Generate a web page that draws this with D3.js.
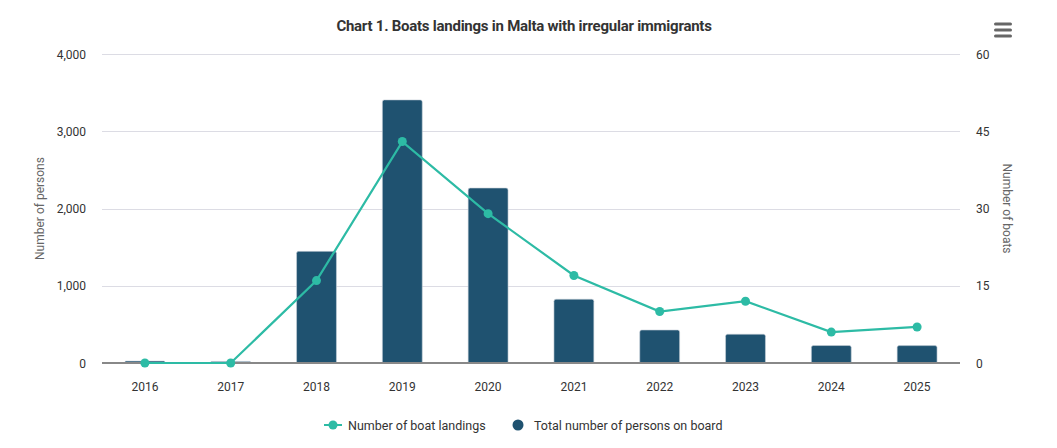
<!DOCTYPE html>
<html><head><meta charset="utf-8">
<script src="https://cdn.jsdelivr.net/npm/d3@7"></script>
<style>
body{margin:0;background:#fff;font-family:Roboto,"Noto Sans",sans-serif;}
</style></head>
<body><svg id="c" width="1057" height="448"></svg>
<script>
const years = ["2016","2017","2018","2019","2020","2021","2022","2023","2024","2025"];
const persons = [25, 20, 1445, 3406, 2265, 826, 427, 373, 226, 225];
const landings = [0, 0, 16, 43, 29, 17, 10, 12, 6, 7];
const leftTicks = [0, 1000, 2000, 3000, 4000];
const rightTicks = [0, 15, 30, 45, 60];

const svg = d3.select("#c");
const L = 102, R = 960, T = 54, B = 363;
const x = d3.scaleBand().domain(years).range([L, R]).paddingInner(0.535).paddingOuter(0.2675);
const xc = d3.scalePoint().domain(years).range([L, R]).padding(0.5);
const yL = d3.scaleLinear().domain([0, 4000]).range([B, T]);
const yR = d3.scaleLinear().domain([0, 60]).range([B, T]);

svg.append("text").attr("x", 524).attr("y", 31).attr("text-anchor", "middle")
  .attr("font-size", 15).attr("font-weight", "bold").attr("fill", "#333")
  .style("letter-spacing", "-0.25px").text("Chart 1. Boats landings in Malta with irregular immigrants");

// gridlines
svg.append("g").selectAll("line").data(leftTicks.slice(1)).join("line")
  .attr("x1", L).attr("x2", R).attr("y1", d => Math.round(yL(d)) + 0.5).attr("y2", d => Math.round(yL(d)) + 0.5)
  .attr("stroke", "#dcdce4").attr("stroke-width", 1);

// left axis
const gl = svg.append("g").attr("transform", `translate(${L - 16},0)`)
  .call(d3.axisLeft(yL).tickValues(leftTicks).tickFormat(d3.format(",")).tickSize(0));
gl.select(".domain").remove();
gl.selectAll("text").attr("font-size", 12).attr("fill", "#333").attr("font-family", "Roboto").attr("dy", "0.35em").attr("x", 0);

// right axis
const gr = svg.append("g").attr("transform", `translate(${R + 16},0)`)
  .call(d3.axisRight(yR).tickValues(rightTicks).tickSize(0));
gr.select(".domain").remove();
gr.selectAll("text").attr("font-size", 12).attr("fill", "#333").attr("font-family", "Roboto").attr("dy", "0.35em").attr("x", 0);

// axis titles
svg.append("text").attr("transform", `translate(44,${(T + B) / 2}) rotate(-90)`).attr("text-anchor", "middle")
  .attr("font-size", 12).attr("fill", "#666").text("Number of persons");
svg.append("text").attr("transform", `translate(1003,${(T + B) / 2}) rotate(90)`).attr("text-anchor", "middle")
  .attr("font-size", 12).attr("fill", "#666").text("Number of boats");

// bars
svg.append("g").selectAll("path").data(years).join("path")
  .attr("d", (d, i) => {
    const x0 = x(d), w = x.bandwidth(), y0 = yL(persons[i]), h = B - y0, r = Math.min(2, h / 2);
    return `M${x0},${B}V${y0 + r}Q${x0},${y0} ${x0 + r},${y0}H${x0 + w - r}Q${x0 + w},${y0} ${x0 + w},${y0 + r}V${B}Z`;
  })
  .attr("fill", "#1f5270").attr("stroke", "#c9d1da").attr("stroke-width", 0.6);

// x axis
const gx = svg.append("g").attr("transform", `translate(0,${B})`)
  .call(d3.axisBottom(x).tickSize(0));
gx.select(".domain").attr("stroke", "#888").attr("stroke-width", 2).attr("d", `M${L},0H${R}`);
gx.selectAll("text").attr("font-size", 12).attr("fill", "#333").attr("font-family", "Roboto").attr("dy", "0").attr("y", 28);

// line
const line = d3.line().x((d, i) => xc(years[i])).y(d => yR(d));
svg.append("path").datum(landings).attr("d", line).attr("fill", "none")
  .attr("stroke", "#2dbba5").attr("stroke-width", 2.2);
svg.append("g").selectAll("circle").data(landings).join("circle")
  .attr("cx", (d, i) => xc(years[i])).attr("cy", d => yR(d)).attr("r", 4.5).attr("fill", "#2dbba5");

// legend
const lg = svg.append("g").attr("transform", "translate(0,425)");
lg.append("line").attr("x1", 324).attr("x2", 342).attr("y1", 0).attr("y2", 0).attr("stroke", "#2dbba5").attr("stroke-width", 2);
lg.append("circle").attr("cx", 333).attr("cy", 0).attr("r", 4.5).attr("fill", "#2dbba5");
lg.append("text").attr("x", 348).attr("y", 4.5).attr("font-size", 12.5).attr("fill", "#333").text("Number of boat landings");
lg.append("circle").attr("cx", 518).attr("cy", 0).attr("r", 5.5).attr("fill", "#1f5270");
lg.append("text").attr("x", 534).attr("y", 4.5).attr("font-size", 12.5).attr("fill", "#333").text("Total number of persons on board");

// menu icon
const mg = svg.append("g");
[24, 30, 36].forEach(yy => mg.append("rect").attr("x", 994).attr("y", yy - 1.5).attr("width", 18).attr("height", 3).attr("rx", 1.5).attr("fill", "#666"));
</script></body></html>
